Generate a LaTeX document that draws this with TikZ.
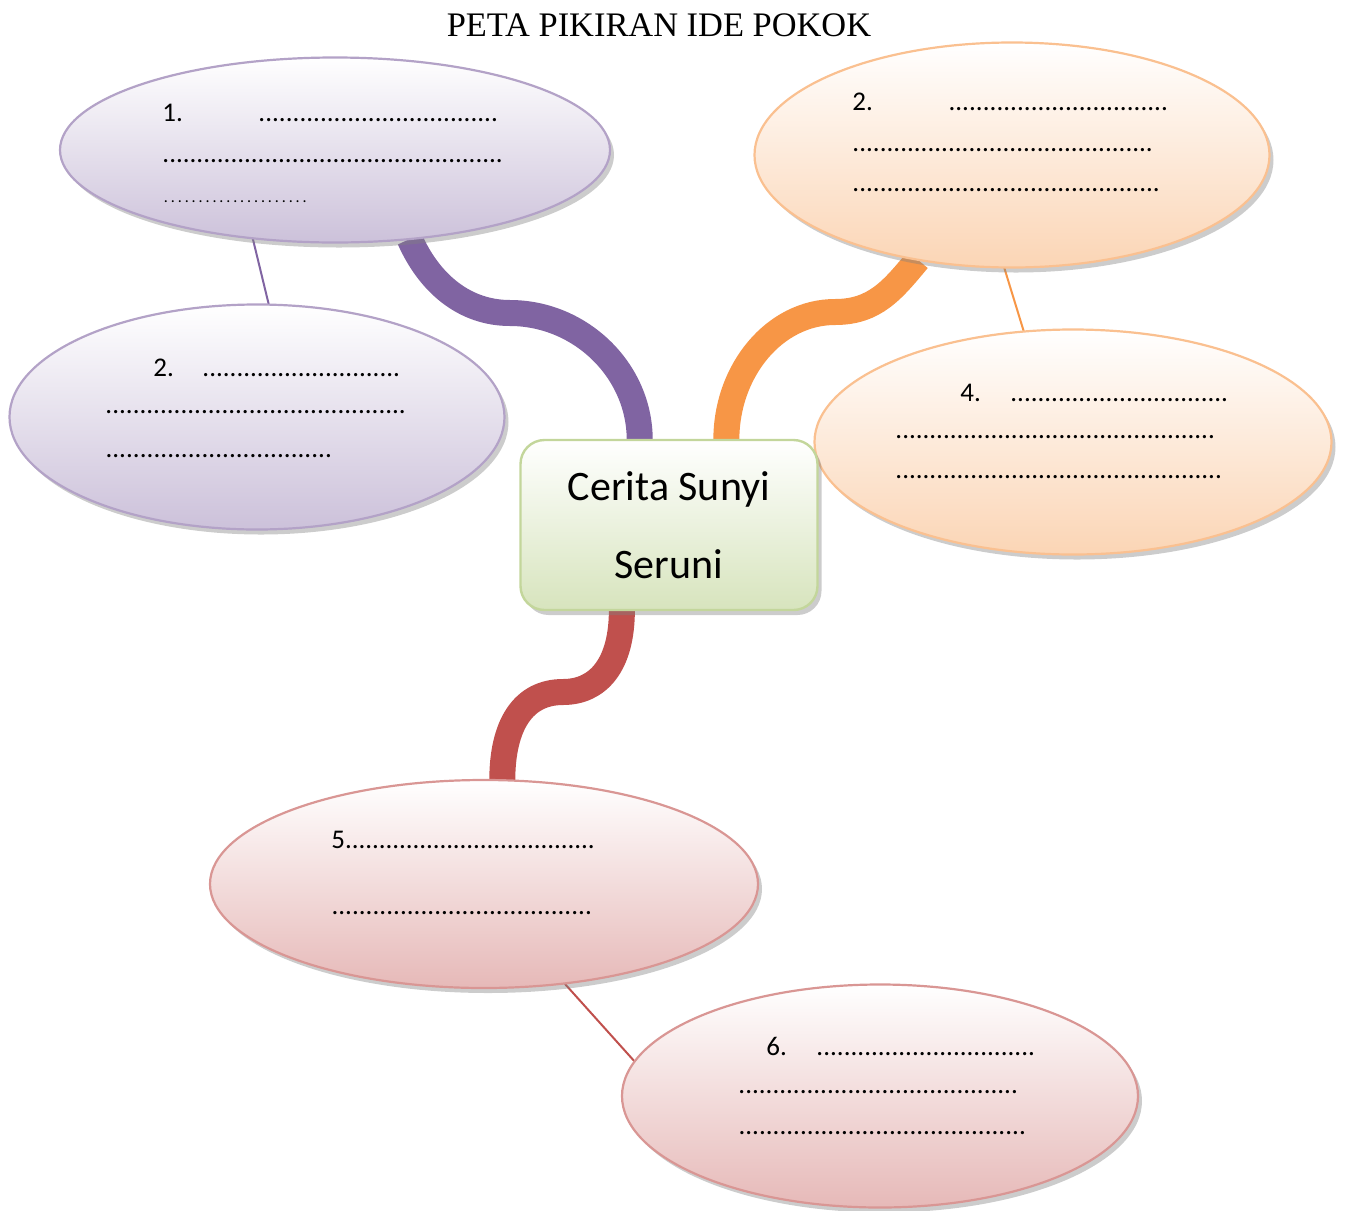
\documentclass[tikz,border=0pt]{standalone}
\usepackage{fontspec}
\setmainfont{Carlito}
\newfontfamily\titlefont{Liberation Serif}
\usetikzlibrary{shapes.geometric,shadows}

\definecolor{ungu}{HTML}{8064A2}
\definecolor{ungulight}{HTML}{CCC1DA}
\definecolor{unguborder}{HTML}{B3A2C7}
\definecolor{oranye}{HTML}{F79646}
\definecolor{oranyelight}{HTML}{FBD5B5}
\definecolor{oranyeborder}{HTML}{FAC090}
\definecolor{merah}{HTML}{C0504D}
\definecolor{merahlight}{HTML}{E6B9B8}
\definecolor{merahborder}{HTML}{D99694}
\definecolor{hijaulight}{HTML}{D7E4BD}
\definecolor{hijauborder}{HTML}{C3D69B}

\newcommand{\dotrow}[1]{\hbox to #1{\xleaders\hbox to 3.35pt{\hss.\hss}\hfil}}
\newcommand{\smalldotrow}[1]{{\fontsize{8}{8}\selectfont\hbox to #1{\xleaders\hbox to 3.35pt{\hss.\hss}\hfil}}}

\pgfdeclarelayer{bg}
\pgfsetlayers{bg,main}

\begin{document}
\begin{tikzpicture}[x=0.5pt,y=-0.5pt,
    bubble/.style={ellipse,inner sep=0pt,outer sep=0pt,draw=#1border,line width=1.1pt,
      shading=axis,top color=white,bottom color=#1light,
      drop shadow={shadow xshift=2pt,shadow yshift=-2.5pt,opacity=0.4}},
    isi/.style={anchor=base west,inner sep=0pt,font=\fontsize{13.5}{15}\selectfont},
    branch/.style={draw=#1,line width=13pt,line cap=butt},
    twig/.style={draw=#1,line width=1pt}]
  \useasboundingbox (0,0) rectangle (1345,1211);

  \node[font=\titlefont\fontsize{17.2}{20}\selectfont,inner sep=0pt] (judul) at (659,25) {PETA PIKIRAN IDE POKOK};

  \node[bubble=ungu,minimum width=275pt,minimum height=92.5pt] (e1) at (335,150) {};
  \node[bubble=ungu,minimum width=247.5pt,minimum height=112.5pt] (e2) at (257,417) {};
  \node[bubble=oranye,minimum width=257.5pt,minimum height=112.5pt] (e3) at (1012,155) {};
  \node[bubble=oranye,minimum width=258.5pt,minimum height=112.5pt] (e4) at (1073,442) {};
  \node[bubble=merah,minimum width=274pt,minimum height=104pt] (e5) at (484,884) {};
  \node[bubble=merah,minimum width=258pt,minimum height=111.5pt] (e6) at (880,1096) {};

  \node[rectangle,rounded corners=12pt,draw=hijauborder,line width=1.2pt,
    shading=axis,top color=white,bottom color=hijaulight,
    drop shadow={shadow xshift=2pt,shadow yshift=-2.5pt,opacity=0.4},
    minimum width=148.5pt,minimum height=85pt,inner sep=0pt,outer sep=0pt,
    align=center,font=\fontsize{21}{39}\selectfont] (box) at (669,525) {Cerita Sunyi\\Seruni};

  \coordinate (pb) at (510,313);
  \coordinate (ob) at (835,312);
  \coordinate (rb) at (563,692);

  \begin{pgfonlayer}{bg}
    \draw[branch=ungu] (e1.-50) .. controls +(20,45) and +(-45,0) .. (pb)
      .. controls +(70,0) and +(0,-70) .. (box.109);
    \draw[branch=oranye] (box.56) .. controls +(0,-70) and +(-60,0) .. (ob)
      .. controls +(40,0) and +(-25,30) .. (e3.-132);
    \draw[branch=merah] (box.-119) .. controls +(0,55) and +(35,0) .. (rb)
      .. controls +(-40,0) and +(0,-55) .. (e5.80);
    \draw[twig=ungu] (e1.-133) -- (e2.84);
    \draw[twig=oranye] (e3.-94) -- (e4.114);
    \draw[twig=merah] (e5.-51) -- (e6.172);
  \end{pgfonlayer}

  \node[isi] (e1a) at (162,121) {\makebox[48pt][l]{1.}\dotrow{120pt}};
  \node[isi] (e1b) at (162,162) {\dotrow{170.5pt}};
  \node[isi] (e1c) at (162,202) {\smalldotrow{73pt}};

  \node[isi] (e2a) at (153,376) {\makebox[24.5pt][l]{2.}\dotrow{99pt}};
  \node[isi] (e2b) at (105,413) {\dotrow{150.5pt}};
  \node[isi] (e2c) at (105,457) {\dotrow{113.5pt}};

  \node[isi] (e3a) at (852,110) {\makebox[48pt][l]{2.}\dotrow{110pt}};
  \node[isi] (e3b) at (852,151) {\dotrow{150.5pt}};
  \node[isi] (e3c) at (852,191) {\dotrow{154pt}};

  \node[isi] (e4a) at (960,401) {\makebox[25pt][l]{4.}\dotrow{109pt}};
  \node[isi] (e4b) at (895,438) {\dotrow{160pt}};
  \node[isi] (e4c) at (895,478) {\dotrow{163.5pt}};

  \node[isi] (e5a) at (331,848) {5\dotrow{125pt}};
  \node[isi] (e5b) at (331,914) {\dotrow{130.5pt}};

  \node[isi] (e6a) at (766,1055) {\makebox[25pt][l]{6.}\dotrow{109.5pt}};
  \node[isi] (e6b) at (738,1093) {\dotrow{140pt}};
  \node[isi] (e6c) at (738,1134) {\dotrow{144pt}};
\end{tikzpicture}
\end{document}
